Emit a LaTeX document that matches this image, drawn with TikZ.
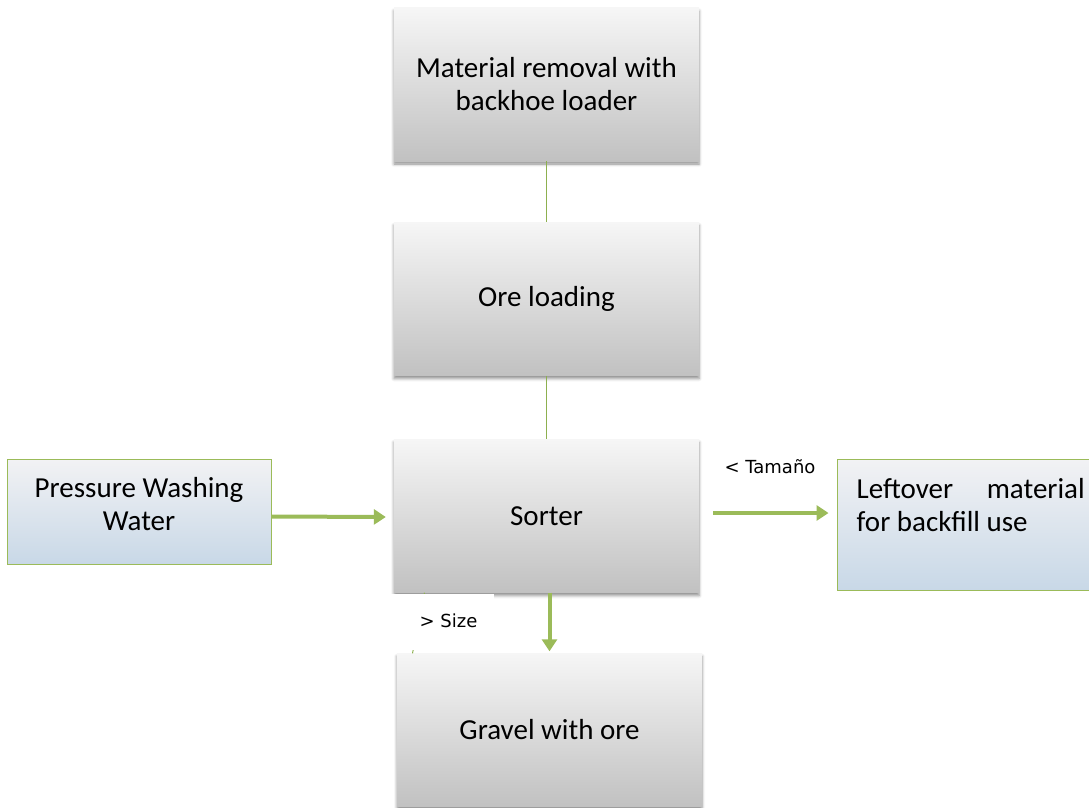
\documentclass[tikz,border=0pt]{standalone}
\usepackage{fontspec}
\setmainfont{Carlito}
\newfontfamily\labelfont{DejaVu Sans}
\usetikzlibrary{arrows.meta,shadows.blur}
\definecolor{flowgreen}{HTML}{9BBB59}
\definecolor{linkgreen}{HTML}{8DB04F}
\definecolor{boxtop}{HTML}{F6F6F6}
\definecolor{boxmid}{HTML}{DFDFDF}
\definecolor{boxbot}{HTML}{C1C1C1}
\definecolor{inbot}{HTML}{C8D8E7}
\definecolor{inmid}{HTML}{DDDDDF}
\definecolor{intop}{HTML}{F2F2F4}
\tikzset{
  stepbox/.style={rectangle, minimum width=305pt, minimum height=153pt,
    top color=boxtop, middle color=boxmid, bottom color=boxbot,
    blur shadow={shadow xshift=0pt, shadow yshift=-3pt, shadow blur radius=3pt, shadow opacity=45},
    font=\fontsize{29}{33}\selectfont, align=center, inner sep=0pt},
  inputbox/.style={rectangle, draw=flowgreen, line width=1pt,
    top color=intop, middle color=inmid, bottom color=inbot,
    font=\fontsize{29}{33}\selectfont, align=center, inner sep=0pt},
  boxtext/.style={font=\fontsize{29}{33}\selectfont, inner sep=0pt},
  tag/.style={font=\labelfont\fontsize{18}{21}\selectfont, inner sep=0pt},
  link/.style={draw=linkgreen, line width=1.8pt},
  flow/.style={draw=flowgreen, line width=4pt, -{Triangle[width=15pt,length=12pt]}},
}
\begin{document}
\begin{tikzpicture}[x=1pt,y=-1pt]
\useasboundingbox (0,0) rectangle (1089,808);

% main process column
\node[stepbox] (removal) at (546.5,84.5) {Material removal with\\backhoe loader};
\node[stepbox] (loading) at (546.5,299) {Ore loading};
\node[stepbox] (sorter) at (546.5,516) {Sorter};
\node[stepbox] (gravel) at (549.5,730) {Gravel with ore};

% side boxes
\node[inputbox, minimum width=264pt, minimum height=105pt] (water) at (139,511.5) {};
\node[boxtext, align=center] (watertext) at (139,504) {Pressure Washing\\Water};
\node[inputbox, minimum width=256pt, minimum height=131pt] (leftover) at (965,524.5) {};
\node[boxtext, align=left, anchor=north west] (lefttext)
  at ([shift={(20pt,-20pt)}]leftover.north west)
  {\makebox[228pt][s]{Leftover material}\\for backfill use};

% thin links between steps
\draw[link] (removal.south) -- (loading.north);
\draw[link] (loading.south) -- (sorter.north);
\draw[link, line width=1pt] ([xshift=-122pt]sorter.south) -- ([xshift=-137pt]gravel.north);

% material flows
\draw[flow] ([yshift=-5pt]water.east) -- ([xshift=-8pt,yshift=-1pt]sorter.west);
\draw[flow] ([xshift=14pt,yshift=3pt]sorter.east) -- ([xshift=-8pt,yshift=3pt]sorter.east -| leftover.west);
\draw[flow] ([xshift=3pt]sorter.south) -- ([yshift=2pt]gravel.north);

% size labels
\node[tag] (smaller) at (770,467) {< Tamaño};
\node[fill=white, minimum width=104pt, minimum height=56pt, inner sep=0pt] (bigger) at (442,622) {};
\node[tag] (biggertext) at (448.5,621) {> Size};
\end{tikzpicture}
\end{document}
